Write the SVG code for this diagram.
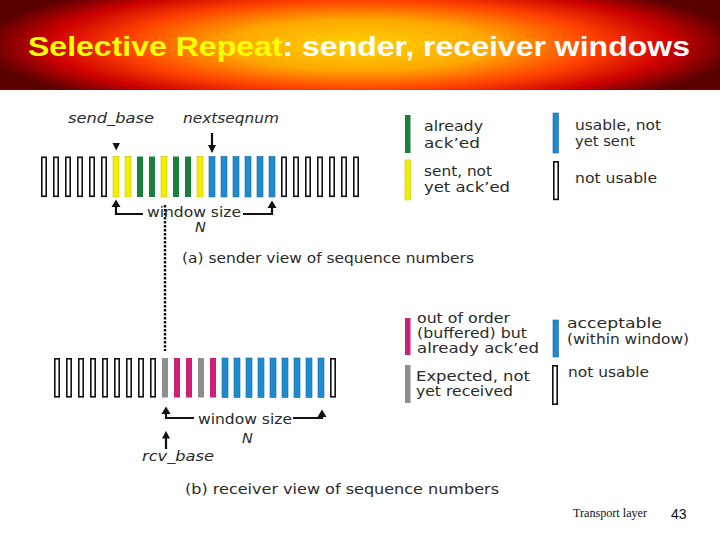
<svg xmlns="http://www.w3.org/2000/svg" width="720" height="540" viewBox="0 0 720 540">
<style>
.o{fill:#fff;stroke:#111;stroke-width:1.6}
.y{fill:#f2ee00;stroke:#c9c200;stroke-width:0.6}
.g{fill:#1b7f3e}
.b{fill:#1f8bcf;stroke:#17699c;stroke-width:0.6}
.m{fill:#cc1f75}
.k{fill:#8e8e8e}
.t{font-family:"DejaVu Sans","Liberation Sans",sans-serif;font-size:14.5px;fill:#2a2a2a}
.it{font-style:italic}
.ln{stroke:#111;stroke-width:2.2;fill:none}
.ah{fill:#111}
</style>
<defs>
<radialGradient id="tg" gradientUnits="userSpaceOnUse" cx="360" cy="45" r="380" gradientTransform="translate(360,45) scale(1,0.19) translate(-360,-45)">
<stop offset="0" stop-color="#ffd200"/>
<stop offset="0.35" stop-color="#ffa800"/>
<stop offset="0.62" stop-color="#ff4000"/>
<stop offset="0.82" stop-color="#cc0000"/>
<stop offset="1" stop-color="#5a0000"/>
</radialGradient>
</defs>
<rect width="720" height="540" fill="#fff"/>
<g id="title">
<rect x="0" y="0" width="720" height="90" fill="url(#tg)"/>
<text x="28" y="56" font-family="'Liberation Sans',Arial,sans-serif" font-size="28" font-weight="bold" textLength="662" lengthAdjust="spacingAndGlyphs"><tspan fill="#ffff00">Selective Repeat</tspan><tspan fill="#ffffff">: sender, receiver windows</tspan></text>
</g>
<g id="sender-bars">
<rect class="o" x="41.8" y="157.3" width="4.4" height="39"/>
<rect class="o" x="53.8" y="157.3" width="4.4" height="39"/>
<rect class="o" x="65.8" y="157.3" width="4.4" height="39"/>
<rect class="o" x="77.8" y="157.3" width="4.4" height="39"/>
<rect class="o" x="89.8" y="157.3" width="4.4" height="39"/>
<rect class="o" x="101.8" y="157.3" width="4.4" height="39"/>
<rect class="y" x="113" y="156.5" width="6" height="40.5"/>
<rect class="y" x="125" y="156.5" width="6" height="40.5"/>
<rect class="g" x="137" y="156.5" width="6" height="40.5"/>
<rect class="g" x="149" y="156.5" width="6" height="40.5"/>
<rect class="y" x="161" y="156.5" width="6" height="40.5"/>
<rect class="g" x="173" y="156.5" width="6" height="40.5"/>
<rect class="g" x="185" y="156.5" width="6" height="40.5"/>
<rect class="y" x="197" y="156.5" width="6" height="40.5"/>
<rect class="b" x="209" y="156.5" width="6" height="40.5"/>
<rect class="b" x="221" y="156.5" width="6" height="40.5"/>
<rect class="b" x="233" y="156.5" width="6" height="40.5"/>
<rect class="b" x="245" y="156.5" width="6" height="40.5"/>
<rect class="b" x="257" y="156.5" width="6" height="40.5"/>
<rect class="b" x="269" y="156.5" width="6" height="40.5"/>
<rect class="o" x="281.8" y="157.3" width="4.4" height="39"/>
<rect class="o" x="293.8" y="157.3" width="4.4" height="39"/>
<rect class="o" x="305.8" y="157.3" width="4.4" height="39"/>
<rect class="o" x="317.8" y="157.3" width="4.4" height="39"/>
<rect class="o" x="329.8" y="157.3" width="4.4" height="39"/>
<rect class="o" x="341.8" y="157.3" width="4.4" height="39"/>
<rect class="o" x="353.8" y="157.3" width="4.4" height="39"/>
</g>
<g id="receiver-bars">
<rect class="o" x="54.8" y="358.8" width="4.4" height="38"/>
<rect class="o" x="66.8" y="358.8" width="4.4" height="38"/>
<rect class="o" x="78.8" y="358.8" width="4.4" height="38"/>
<rect class="o" x="90.8" y="358.8" width="4.4" height="38"/>
<rect class="o" x="102.8" y="358.8" width="4.4" height="38"/>
<rect class="o" x="114.8" y="358.8" width="4.4" height="38"/>
<rect class="o" x="126.8" y="358.8" width="4.4" height="38"/>
<rect class="o" x="138.8" y="358.8" width="4.4" height="38"/>
<rect class="o" x="150.8" y="358.8" width="4.4" height="38"/>
<rect class="k" x="162" y="358" width="6" height="39.5"/>
<rect class="m" x="174" y="358" width="6" height="39.5"/>
<rect class="m" x="186" y="358" width="6" height="39.5"/>
<rect class="k" x="198" y="358" width="6" height="39.5"/>
<rect class="m" x="210" y="358" width="6" height="39.5"/>
<rect class="b" x="222" y="358" width="6" height="39.5"/>
<rect class="b" x="234" y="358" width="6" height="39.5"/>
<rect class="b" x="246" y="358" width="6" height="39.5"/>
<rect class="b" x="258" y="358" width="6" height="39.5"/>
<rect class="b" x="270" y="358" width="6" height="39.5"/>
<rect class="b" x="282" y="358" width="6" height="39.5"/>
<rect class="b" x="294" y="358" width="6" height="39.5"/>
<rect class="b" x="306" y="358" width="6" height="39.5"/>
<rect class="b" x="318" y="358" width="6" height="39.5"/>
<rect class="o" x="330.8" y="358.8" width="4.4" height="38"/>
</g>
<g id="connectors">
<line x1="165" y1="205" x2="165" y2="351" stroke="#111" stroke-width="2.4" stroke-dasharray="2.5,1.5"/>
<polygon class="ah" points="112.5,143 120,143 116.2,150.5"/>
<line class="ln" x1="212" y1="133" x2="212" y2="146" stroke-width="1.4"/>
<polygon class="ah" points="208,145 216,145 212,153"/>
<polyline class="ln" points="116,206 116,214 143,214"/>
<polygon class="ah" points="111.5,207 120.5,207 116,199.5"/>
<polyline class="ln" points="243,214 272,214 272,207"/>
<polygon class="ah" points="267.5,208 276.5,208 272,200.5"/>
<polyline class="ln" points="166,413 166,418 194,418"/>
<polygon class="ah" points="161.5,414 170.5,414 166,406.5"/>
<polyline class="ln" points="293,418 322,418 322,416"/>
<polygon class="ah" points="317.5,417 326.5,417 322,409.5"/>
<line class="ln" x1="166" y1="437" x2="166" y2="449" stroke-width="1.8"/>
<polygon class="ah" points="162,438.5 170,438.5 166,431"/>
</g>
<g id="sender-labels">
<text class="t it" x="68" y="123" textLength="86" lengthAdjust="spacingAndGlyphs">send_base</text>
<text class="t it" x="183" y="123" textLength="96" lengthAdjust="spacingAndGlyphs">nextseqnum</text>
<text class="t" x="147" y="217" textLength="94" lengthAdjust="spacingAndGlyphs">window size</text>
<text class="t it" x="195" y="232">N</text>
<text class="t" x="182" y="263" textLength="292" lengthAdjust="spacingAndGlyphs">(a) sender view of sequence numbers</text>
</g>
<g id="sender-legend">
<rect class="g" x="405" y="115" width="5.5" height="38"/>
<text class="t" x="424" y="131" textLength="59" lengthAdjust="spacingAndGlyphs">already</text>
<text class="t" x="424" y="148" textLength="56" lengthAdjust="spacingAndGlyphs">ack’ed</text>
<rect class="y" x="405" y="160" width="5.5" height="40"/>
<text class="t" x="424" y="176" textLength="68" lengthAdjust="spacingAndGlyphs">sent, not</text>
<text class="t" x="424" y="192" textLength="86" lengthAdjust="spacingAndGlyphs">yet ack’ed</text>
<rect class="b" x="553" y="113" width="5.5" height="40"/>
<text class="t" x="575" y="130" textLength="86" lengthAdjust="spacingAndGlyphs">usable, not</text>
<text class="t" x="575" y="146" textLength="60" lengthAdjust="spacingAndGlyphs">yet sent</text>
<rect class="o" x="553.8" y="161.8" width="4.4" height="37.6"/>
<text class="t" x="575" y="183" textLength="82" lengthAdjust="spacingAndGlyphs">not usable</text>
</g>
<g id="receiver-labels">
<text class="t" x="198" y="424" textLength="94" lengthAdjust="spacingAndGlyphs">window size</text>
<text class="t it" x="242" y="443">N</text>
<text class="t it" x="142" y="461" textLength="72" lengthAdjust="spacingAndGlyphs">rcv_base</text>
<text class="t" x="185" y="494" textLength="314" lengthAdjust="spacingAndGlyphs">(b) receiver view of sequence numbers</text>
</g>
<g id="receiver-legend">
<rect class="m" x="405" y="318" width="5.5" height="37"/>
<text class="t" x="417" y="323" textLength="93" lengthAdjust="spacingAndGlyphs">out of order</text>
<text class="t" x="417" y="338" textLength="110" lengthAdjust="spacingAndGlyphs">(buffered) but</text>
<text class="t" x="417" y="353" textLength="122" lengthAdjust="spacingAndGlyphs">already ack’ed</text>
<rect class="k" x="405" y="365" width="5.5" height="38"/>
<text class="t" x="416" y="381" textLength="114" lengthAdjust="spacingAndGlyphs">Expected,  not</text>
<text class="t" x="416" y="396" textLength="97" lengthAdjust="spacingAndGlyphs">yet received</text>
<rect class="b" x="553" y="320" width="5.5" height="37"/>
<text class="t" x="567" y="328" textLength="95" lengthAdjust="spacingAndGlyphs">acceptable</text>
<text class="t" x="567" y="344" textLength="122" lengthAdjust="spacingAndGlyphs">(within window)</text>
<rect class="o" x="552.8" y="365.8" width="4.4" height="38.4"/>
<text class="t" x="568" y="377" textLength="81" lengthAdjust="spacingAndGlyphs">not usable</text>
</g>
<g id="footer">
<text x="573" y="517" font-family="'Liberation Serif','Times New Roman',serif" font-size="12" fill="#111" textLength="74" lengthAdjust="spacingAndGlyphs">Transport layer</text>
<text x="671" y="519" font-family="'Liberation Sans',Arial,sans-serif" font-size="14" fill="#111">43</text>
</g>
</svg>
